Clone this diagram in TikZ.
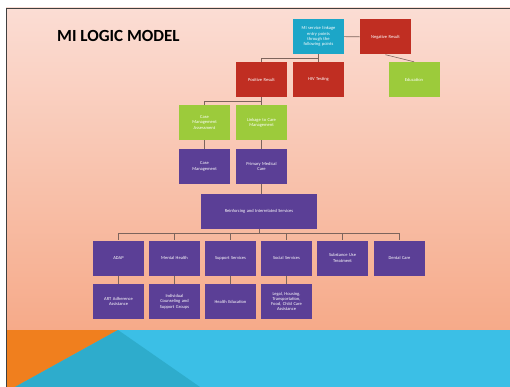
\documentclass[tikz,border=0pt]{standalone}
\usepackage{fontspec}
\setmainfont{Carlito}

\definecolor{mitop}{RGB}{251,221,212}
\definecolor{mibottom}{RGB}{246,170,137}
\definecolor{miteal}{RGB}{28,166,200}
\definecolor{mired}{RGB}{192,46,34}
\definecolor{migreen}{RGB}{156,203,59}
\definecolor{mipurple}{RGB}{91,63,150}
\definecolor{milink}{RGB}{125,100,92}
\definecolor{miorange}{RGB}{240,127,30}
\definecolor{micyan}{RGB}{59,191,230}
\definecolor{midteal}{RGB}{46,172,204}

\tikzset{
  box/.style={rectangle, minimum width=51pt, minimum height=35pt, text width=47pt,
    align=center, inner sep=1pt, text=white, font=\fontsize{4.5}{5.3}\selectfont},
  tealbox/.style={box, fill=miteal},
  redbox/.style={box, fill=mired},
  greenbox/.style={box, fill=migreen},
  purplebox/.style={box, fill=mipurple},
  link/.style={draw=milink, line width=0.6pt}
}

\begin{document}
\begin{tikzpicture}[x=1pt, y=-1pt]
  \useasboundingbox (0,0) rectangle (510,387);
  \fill[white] (0,0) rectangle (510,387);

  % slide background
  \shade[top color=mitop, bottom color=mibottom] (6,8) rectangle (510,330);
  \fill[micyan] (6,330) rectangle (510,387);
  \fill[miorange] (6,330) -- (118,330) -- (15,387) -- (6,387) -- cycle;
  \fill[midteal] (118,330) -- (200,387) -- (15,387) -- cycle;
  \draw[black!75, line width=0.8pt] (6,387) -- (6,8) -- (510,8);

  \node[font=\fontsize{17}{17}\selectfont\bfseries, anchor=west, inner sep=0pt] (title) at (57,36) {MI LOGIC MODEL};

  % top levels
  \node[tealbox] (entry) at (318.5,36.5) {MI service linkage\\entry points\\through the\\following points};
  \node[redbox] (neg) at (385.5,37) {Negative Result};
  \node[greenbox] (edu) at (414,79.5) {Education};
  \node[redbox] (pos) at (261.5,79.5) {Positive Result};
  \node[redbox] (hiv) at (318.5,79.5) {HIV Testing};
  \node[greenbox] (cma) at (204.5,122.5) {Case\\Management\\Assessment};
  \node[greenbox] (lcm) at (261.5,122.5) {Linkage to Care\\Management};
  \node[purplebox] (casem) at (204.5,166.5) {Case\\Management};
  \node[purplebox] (pmc) at (261.5,166.5) {Primary Medical\\Care};
  \node[purplebox, minimum width=116pt, text width=110pt] (reinf) at (259,211.5) {Reinforcing and Interrelated Services};

  % services
  \node[purplebox] (adap) at (118.5,258) {ADAP};
  \node[purplebox] (mh) at (174.5,258) {Mental Health};
  \node[purplebox] (sups) at (230.5,258) {Support Services};
  \node[purplebox] (socs) at (286.5,258) {Social Services};
  \node[purplebox] (sub) at (342.5,258) {Substance Use\\Treatment};
  \node[purplebox] (dent) at (399.5,258) {Dental Care};
  \node[purplebox] (art) at (118.5,301.5) {ART Adherence\\Assistance};
  \node[purplebox] (ind) at (174.5,301.5) {Individual\\Counseling and\\Support Groups};
  \node[purplebox] (hed) at (230.5,301.5) {Health Education};
  \node[purplebox] (legal) at (286.5,301.5) {Legal, Housing,\\Transportation,\\Food, Child Care\\Assistance};

  % connectors
  \draw[link] (entry) -- (neg);
  \draw[link] (neg.south) -- (edu.north);
  \draw[link] (entry.south) -- ++(0,4) -| (pos.north);
  \draw[link] (entry.south) -- (hiv.north);
  \draw[link] (pos.south) -- ++(0,4) -| (cma.north);
  \draw[link] (pos.south) -- (lcm.north);
  \draw[link] (cma) -- (casem);
  \draw[link] (lcm) -- (pmc);
  \draw[link] (pmc.south) -- (pmc.south |- reinf.north);
  \foreach \n in {adap,mh,sups,socs,sub,dent}
    \draw[link] (reinf.south) -- ++(0,4) -| (\n.north);
  \foreach \a/\b in {adap/art,mh/ind,sups/hed,socs/legal}
    \draw[link] (\a) -- (\b);
\end{tikzpicture}
\end{document}
